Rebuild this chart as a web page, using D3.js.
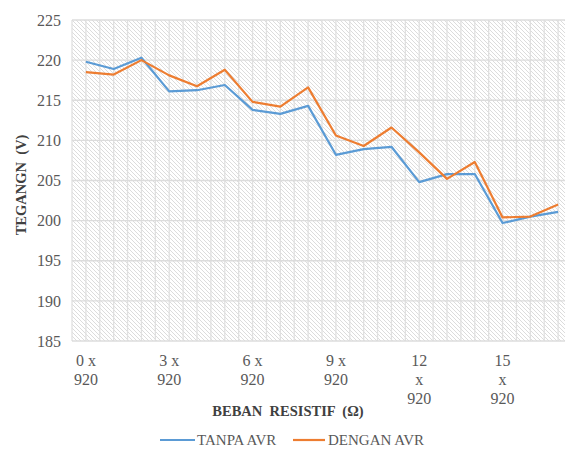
<!DOCTYPE html>
<html><head><meta charset="utf-8">
<script src="https://cdn.jsdelivr.net/npm/d3@7"></script>
<style>body{margin:0;background:#fff}svg{display:block}text{font-family:"Liberation Serif","Times New Roman",serif}</style>
</head><body>
<script>
const categories = ["0 x 920","1 x 920","2 x 920","3 x 920","4 x 920","5 x 920","6 x 920","7 x 920","8 x 920","9 x 920","10 x 920","11 x 920","12 x 920","13 x 920","14 x 920","15 x 920","16 x 920","17 x 920"];
const tanpaAVR = [219.8,218.9,220.3,216.1,216.25,216.9,213.8,213.3,214.3,208.2,208.9,209.2,204.8,205.8,205.8,199.7,200.5,201.1];
const denganAVR = [218.5,218.2,220.0,218.1,216.75,218.8,214.8,214.2,216.6,210.6,209.3,211.6,208.5,205.2,207.3,200.4,200.5,202.0];
const yTicks = [185,190,195,200,205,210,215,220,225];
const shownLabels = [0,3,6,9,12,15];
const seriesNames = ["TANPA AVR","DENGAN AVR"];
const colors = ["#5b9bd5","#ed7d31"];

const W=565,H=451;
const FF='"Liberation Serif","Times New Roman",serif';
const svg=d3.select("body").append("svg").attr("width",W).attr("height",H);
const m={l:72,t:20,r:572,b:341};
const x=d3.scaleBand().domain(categories).range([m.l,m.r]);
const y=d3.scaleLinear().domain([185,225]).range([m.b,m.t]);

const defs=svg.append("defs");
const pat=defs.append("pattern").attr("id","hatch").attr("patternUnits","userSpaceOnUse").attr("width",4).attr("height",4);
pat.append("rect").attr("width",4).attr("height",4).attr("fill","#fff");
pat.append("path").attr("d","M-1,-1 L5,5 M-1,3 L1,5 M3,-1 L5,1").attr("stroke","#d8d8d8").attr("stroke-width",0.9);

svg.append("rect").attr("x",m.l).attr("y",m.t).attr("width",m.r-m.l).attr("height",m.b-m.t).attr("fill","url(#hatch)");

// vertical gridlines at band edges and centers
const vlines=[];
categories.forEach(c=>{vlines.push(x(c));vlines.push(x(c)+x.bandwidth()/2);});
vlines.push(m.r);
svg.append("g").selectAll("line").data(vlines).join("line")
 .attr("x1",d=>d).attr("x2",d=>d).attr("y1",m.t).attr("y2",m.b)
 .attr("stroke","#e0e0e0").attr("stroke-width",1.3);
svg.append("g").selectAll("line").data(yTicks).join("line")
 .attr("x1",m.l).attr("x2",m.r).attr("y1",d=>y(d)).attr("y2",d=>y(d))
 .attr("stroke","#dcdcdc").attr("stroke-width",1.3);

// y axis labels
const yAxis=d3.axisLeft(y).tickValues(yTicks).tickSize(0).tickPadding(11);
const ga=svg.append("g").attr("transform",`translate(${m.l},0)`).call(yAxis);
ga.select(".domain").remove();
ga.attr("font-family",FF);
ga.selectAll("text").style("font-family",FF).attr("font-size",16).attr("fill","#595959");

// x labels
const xl=svg.append("g");
shownLabels.forEach(i=>{
  const c=categories[i];
  const parts=c.split(" ");
  const lines = c.length>7 ? [parts[0],parts[1],parts[2]] : [parts[0]+" "+parts[1],parts[2]];
  const cx=x(c)+x.bandwidth()/2;
  const t=xl.append("text").attr("x",cx).attr("y",366)
   .attr("text-anchor","middle").style("font-family",FF).attr("font-size",16).attr("fill","#595959");
  lines.forEach((s,k)=>t.append("tspan").attr("x",cx).attr("dy",k?19:0).text(s));
});

// lines
const line=d3.line().x((d,i)=>x(categories[i])+x.bandwidth()/2).y(d=>y(d));
[tanpaAVR,denganAVR].forEach((s,k)=>{
  svg.append("path").datum(s).attr("d",line).attr("fill","none").attr("stroke",colors[k]).attr("stroke-width",2.2).attr("stroke-linejoin","round");
});

// axis titles
svg.append("text").attr("x",288).attr("y",416).attr("text-anchor","middle")
 .style("font-family",FF).attr("font-weight","bold").attr("font-size",14.5).attr("fill","#404040")
 .attr("xml:space","preserve").text("BEBAN  RESISTIF  (Ω)");
svg.append("text").attr("transform","translate(26,185) rotate(-90)").attr("text-anchor","middle")
 .style("font-family",FF).attr("font-weight","bold").attr("font-size",14.5).attr("fill","#404040")
 .attr("xml:space","preserve").text("TEGANGN  (V)");

// legend
const lg=svg.append("g");
const items=[{x1:160,x2:195,tx:197},{x1:293,x2:325,tx:328}];
items.forEach((it,k)=>{
  lg.append("line").attr("x1",it.x1).attr("x2",it.x2).attr("y1",440).attr("y2",440).attr("stroke",colors[k]).attr("stroke-width",2.2);
  lg.append("text").attr("x",it.tx).attr("y",445).style("font-family",FF).attr("font-size",15).attr("fill","#595959").text(seriesNames[k]);
});
</script>
</body></html>
